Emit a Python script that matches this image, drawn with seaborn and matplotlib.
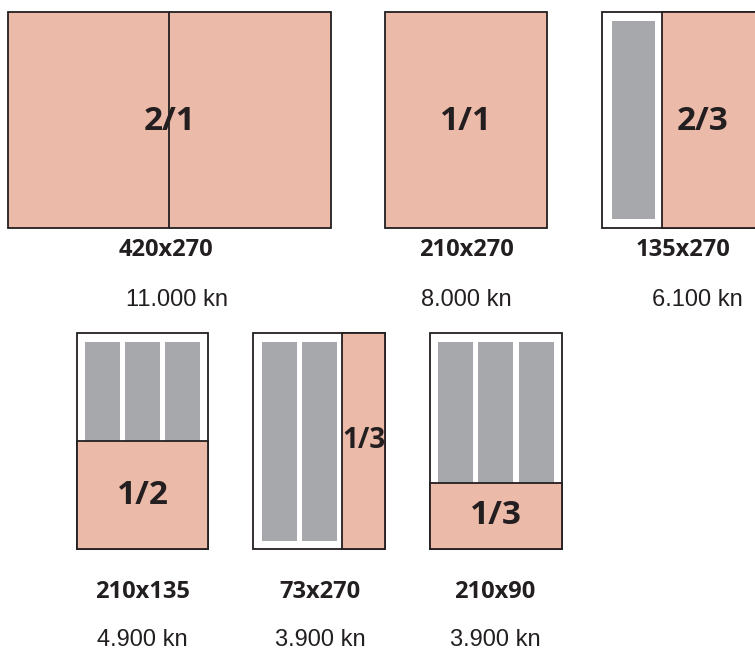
import matplotlib
matplotlib.use("Agg")
import matplotlib.pyplot as plt
import matplotlib.patches as mpatches
import seaborn as sns

# ad formats
fractions = ["2/1", "1/1", "2/3", "1/2", "1/3", "1/3"]
sizes = ["420x270", "210x270", "135x270", "210x135", "73x270", "210x90"]
prices = ["11.000 kn", "8.000 kn", "6.100 kn", "4.900 kn", "3.900 kn", "3.900 kn"]

PINK = "#ecbaa8"
GRAY = "#a7a8ab"
EDGE = "#231f20"
TXT = "#231f20"

sns.set_theme(style="white")
plt.rcParams["font.family"] = ["Open Sans", "DejaVu Sans"]

fig = plt.figure(figsize=(7.55, 6.54), dpi=100)
ax = fig.add_axes([0, 0, 1, 1])
ax.set_xlim(0, 755)
ax.set_ylim(654, 0)
ax.axis("off")


def rect(x0, y0, x1, y1, fc, ec=None, lw=1.3):
    ax.add_patch(mpatches.Rectangle((x0, y0), x1 - x0, y1 - y0, facecolor=fc,
                                    edgecolor=ec if ec else "none", lw=lw))


def frac(x, y, s, fs=24):
    ax.text(x, y, s, ha="center", va="center", fontsize=fs, fontweight="bold", color=TXT)


# 2/1 spread
rect(8, 12, 331, 228, PINK, EDGE)
ax.plot([169, 169], [12, 228], color=EDGE, lw=1.3)
frac(170, 121, fractions[0])

# 1/1
rect(385, 12, 547, 228, PINK, EDGE)
frac(466, 121, fractions[1])

# 2/3
rect(602, 12, 770, 228, "white", EDGE)
rect(662, 12, 770, 228, PINK, EDGE)
rect(612, 21, 655, 219, GRAY)
frac(703, 121, fractions[2])

# 1/2
rect(77, 333, 208, 549, "white", EDGE)
for gx in [85, 125, 165]:
    rect(gx, 342, gx + 35, 441, GRAY)
rect(77, 441, 208, 549, PINK, EDGE)
frac(143, 496, fractions[3])

# 1/3 vertical
rect(253, 333, 385, 549, "white", EDGE)
for gx in [262, 302]:
    rect(gx, 342, gx + 35, 541, GRAY)
rect(342, 333, 385, 549, PINK, EDGE)
frac(363.5, 441, fractions[4], fs=20)

# 1/3 horizontal
rect(430, 333, 562, 549, "white", EDGE)
for gx in [438, 478, 519]:
    rect(gx, 342, gx + 35, 483, GRAY)
rect(430, 483, 562, 549, PINK, EDGE)
frac(496, 516, fractions[5])

size_pos = [(166, 250), (466, 250), (683, 250), (142, 592), (320, 592), (495, 592)]
price_pos = [(177, 300), (466, 300), (697, 300), (142, 640), (320, 640), (495, 640)]
for (sx, sy), s in zip(size_pos, sizes):
    ax.text(sx, sy, s, ha="center", va="center", fontsize=17, fontweight="bold", color=TXT)
for (px, py), p in zip(price_pos, prices):
    ax.text(px, py, p, ha="center", va="center", fontsize=17, color="#231f20",
            family=["Liberation Sans", "DejaVu Sans"])

fig.savefig("out.png", dpi=100)
